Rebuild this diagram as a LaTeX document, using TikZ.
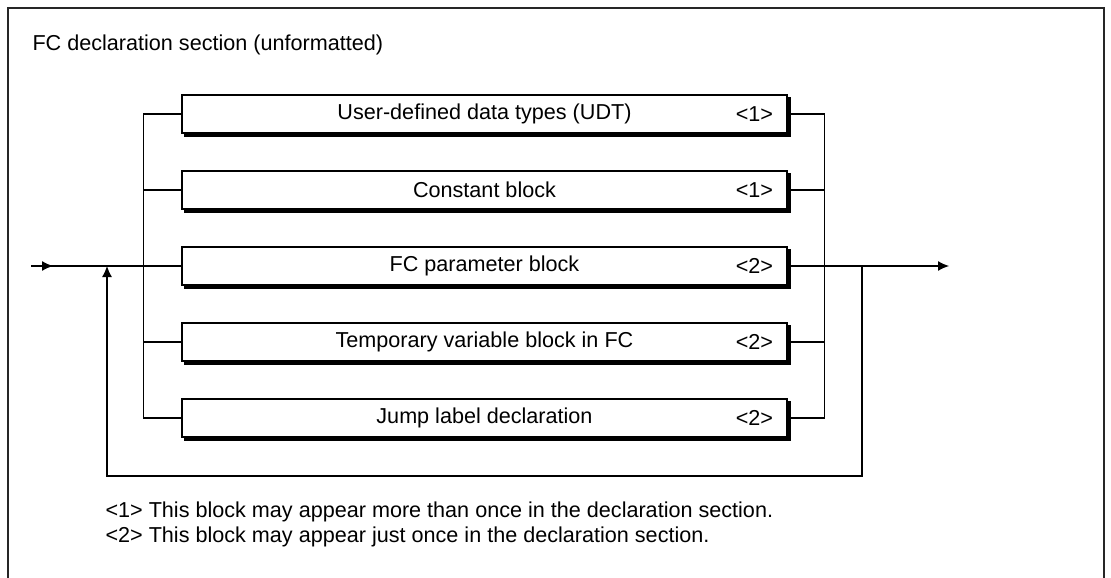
\documentclass[tikz,border=0pt]{standalone}
\usepackage{fontspec}
\setmainfont{Liberation Sans}
\usetikzlibrary{arrows.meta,shadows}

\tikzset{
  blockbox/.style={draw, fill=white, line width=1.2pt, minimum width=605pt,
    minimum height=38pt, inner sep=0pt,
    copy shadow={shadow xshift=3pt, shadow yshift=-3pt, fill=black, draw=black}},
  marktag/.style={xshift=-11pt, anchor=east},
  conn/.style={line width=1.2pt},
  tip/.style={-{Latex[length=11pt,width=10pt]}}
}

\begin{document}
\begin{tikzpicture}[x=1pt,y=-1pt,font=\fontsize{21.6}{25}\selectfont]
\useasboundingbox (0,0) rectangle (1111,578);
% Rahmen
\draw[line width=2pt,black!85] (8,578) -- (8,8) -- (1104,8) -- (1104,578);
\node[anchor=west] (title) at (29,45) {FC declaration section (unformatted)};
% Bloecke
\node[blockbox,label={[marktag]east:{<1>}}] (udt) at (484.5,114) {User-defined data types (UDT)};
\node[blockbox,label={[marktag]east:{<1>}}] (const) at (484.5,190) {Constant block};
\node[blockbox,label={[marktag]east:{<2>}}] (param) at (484.5,266) {FC parameter block};
\node[blockbox,label={[marktag]east:{<2>}}] (temp) at (484.5,342) {Temporary variable block in FC};
\node[blockbox,label={[marktag]east:{<2>}}] (jump) at (484.5,418) {Jump label declaration};
% Ein- und Ausgang
\coordinate (in) at (31,266);
\coordinate (inarr) at (53,266);
\coordinate (out) at (949,266);
\coordinate (loopr) at (862,266);
\coordinate (loopl) at (107,266);
% links
\draw[conn] (in) -- (param.west);
\draw[conn,tip] (in) -- (inarr);
\draw[conn] (udt.west) -- ++(-38,0) |- (jump.west);
\draw[conn] (const.west) -- ++(-38,0);
\draw[conn] (temp.west) -- ++(-38,0);
% rechts
\draw[conn] (udt.east) -- ++(37,0) |- (jump.east);
\draw[conn] (const.east) -- ++(37,0);
\draw[conn] (temp.east) -- ++(37,0);
\draw[conn,tip] (param.east) -- (out);
% Rueckfuehrung
\draw[conn,tip] (loopr) -- ++(0,210) -| (loopl);
% Fussnoten
\node[anchor=west] (note1) at (102,512) {<1> This block may appear more than once in the declaration section.};
\node[anchor=west] (note2) at (102,537) {<2> This block may appear just once in the declaration section.};
\end{tikzpicture}
\end{document}
